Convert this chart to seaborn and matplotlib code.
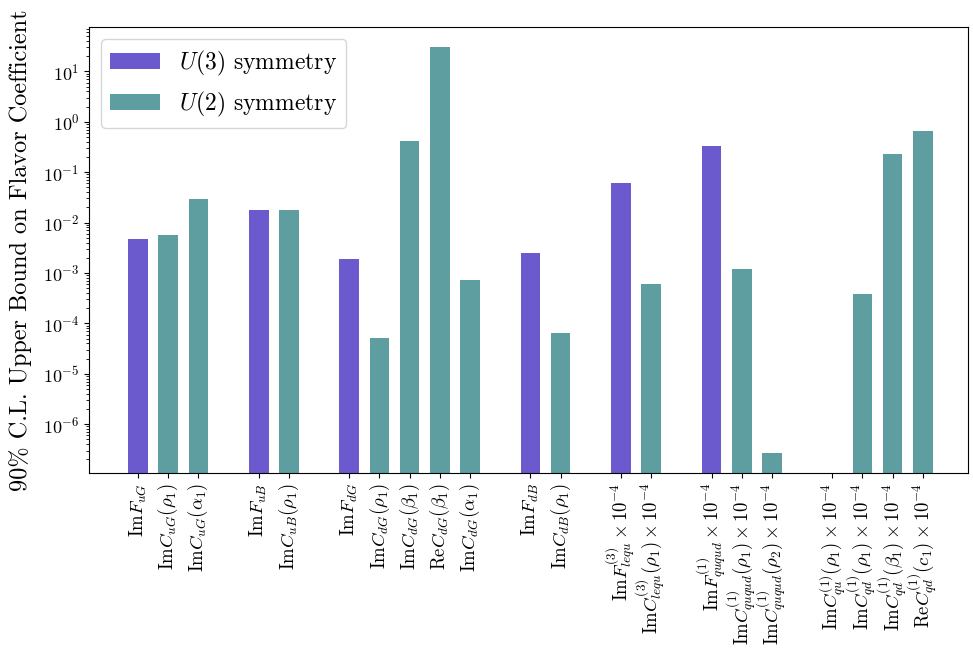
import numpy as np
import pandas as pd
import matplotlib
matplotlib.use("Agg")
import matplotlib.pyplot as plt
import seaborn as sns

# Coefficient labels (tick text), slot positions along the axis, symmetry class and bounds
labels = [
    r"$\mathrm{Im}F_{uG}$",
    r"$\mathrm{Im}C_{uG}(\rho_1)$",
    r"$\mathrm{Im}C_{uG}(\alpha_1)$",
    r"$\mathrm{Im}F_{uB}$",
    r"$\mathrm{Im}C_{uB}(\rho_1)$",
    r"$\mathrm{Im}F_{dG}$",
    r"$\mathrm{Im}C_{dG}(\rho_1)$",
    r"$\mathrm{Im}C_{dG}(\beta_1)$",
    r"$\mathrm{Re}C_{dG}(\beta_1)$",
    r"$\mathrm{Im}C_{dG}(\alpha_1)$",
    r"$\mathrm{Im}F_{dB}$",
    r"$\mathrm{Im}C_{dB}(\rho_1)$",
    r"$\mathrm{Im}F^{(3)}_{lequ}\times 10^{-4}$",
    r"$\mathrm{Im}C^{(3)}_{lequ}(\rho_1)\times 10^{-4}$",
    r"$\mathrm{Im}F^{(1)}_{ququd}\times 10^{-4}$",
    r"$\mathrm{Im}C^{(1)}_{ququd}(\rho_1)\times 10^{-4}$",
    r"$\mathrm{Im}C^{(1)}_{ququd}(\rho_2)\times 10^{-4}$",
    r"$\mathrm{Im}C^{(1)}_{qu}(\rho_1)\times 10^{-4}$",
    r"$\mathrm{Im}C^{(1)}_{qd}(\rho_1)\times 10^{-4}$",
    r"$\mathrm{Im}C^{(1)}_{qd}(\beta_1)\times 10^{-4}$",
    r"$\mathrm{Re}C^{(1)}_{qd}(c_1)\times 10^{-4}$",
]
positions = [0, 1, 2, 4, 5, 7, 8, 9, 10, 11, 13, 14, 16, 17, 19, 20, 21, 23, 24, 25, 26]
symmetry = ["U3", "U2", "U2", "U3", "U2", "U3", "U2", "U2", "U2", "U2",
            "U3", "U2", "U3", "U2", "U3", "U2", "U2", "U2", "U2", "U2", "U2"]
bounds = [4.7e-3, 5.65e-3, 2.92e-2, 1.77e-2, 1.77e-2,
          1.89e-3, 5.1e-5, 0.414, 30.3, 7.4e-4,
          2.48e-3, 6.4e-5, 6.08e-2, 6.0e-4,
          0.33, 1.19e-3, 2.67e-7,
          np.nan, 3.8e-4, 0.229, 0.65]

legend_labels = {"U3": r"$U(3)$ symmetry", "U2": r"$U(2)$ symmetry"}
colors = {"U3": "#6A5ACD", "U2": "#5F9EA0"}

plt.rcParams.update({
    "font.family": "serif",
    "font.serif": ["cmr10"],
    "mathtext.fontset": "cm",
    "axes.unicode_minus": False,
    "axes.formatter.use_mathtext": True,
})

df = pd.DataFrame({"pos": positions, "bound": bounds, "sym": symmetry})

fig = plt.figure(figsize=(9.73, 6.51), dpi=100)
ax = fig.add_axes([0.0915, 0.273, 0.9035, 0.685])

sns.barplot(data=df, x="pos", y="bound", hue="sym", hue_order=["U3", "U2"],
            palette=colors, native_scale=True, dodge=False, width=0.65,
            errorbar=None, saturation=1, ax=ax)

ax.set_yscale("log")
ax.set_ylim(1.06e-7, 74.6)
ax.set_xlim(-1.62, 27.5)
ax.set_xticks(positions)
ax.set_xticklabels(labels, rotation=90, fontsize=13.5)
ax.tick_params(axis="y", labelsize=13)
ax.set_xlabel("")
ax.set_ylabel("90% C.L. Upper Bound on Flavor Coefficient", fontsize=17.5, labelpad=8)

handles, keys = ax.get_legend_handles_labels()
ax.legend(handles, [legend_labels[k] for k in keys], loc="upper left",
          fontsize=17, handlelength=2.1)

fig.savefig("out.png", dpi=100)
